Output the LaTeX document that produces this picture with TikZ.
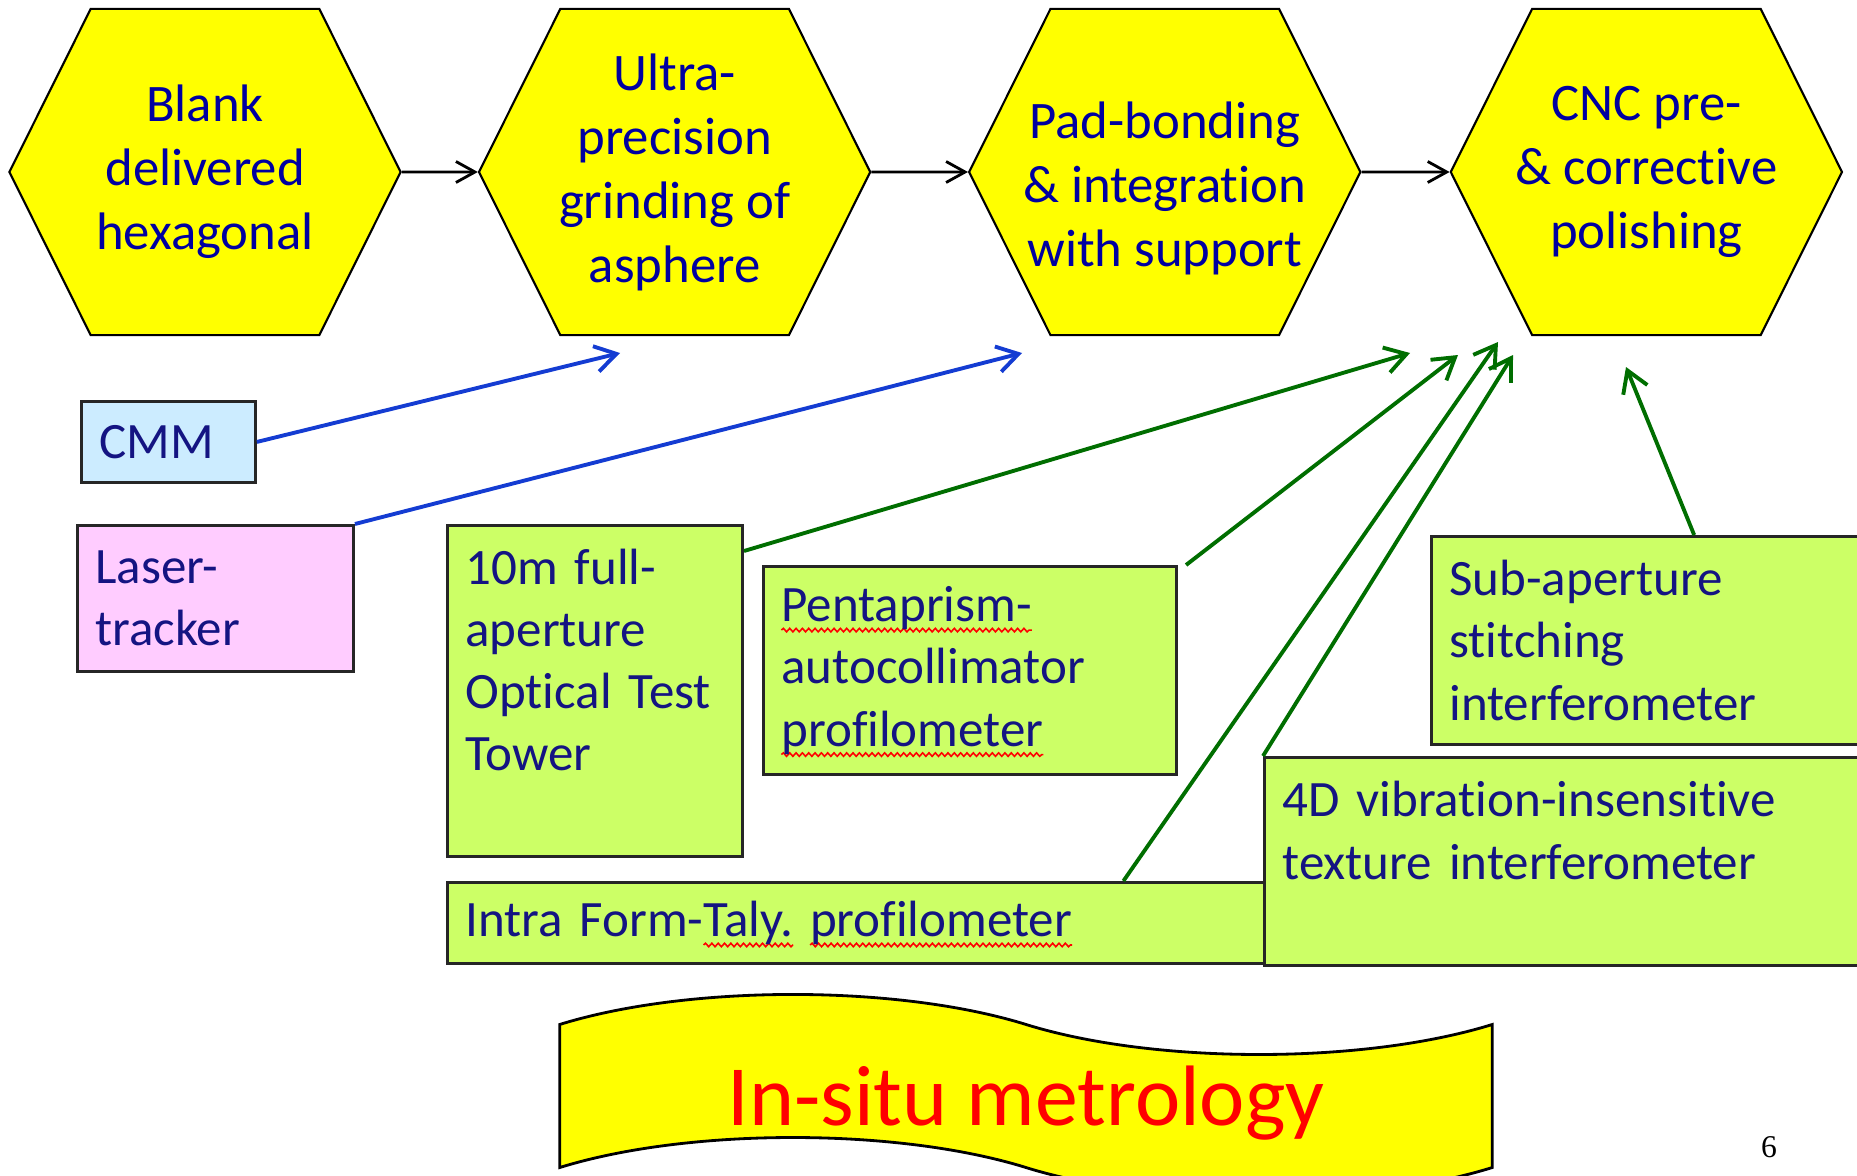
\documentclass[tikz,border=0pt]{standalone}
\usepackage{fontspec}
\setmainfont{Carlito}[Ligatures=CommonOff]
\newfontfamily\slidenumfont{Liberation Serif}
\usetikzlibrary{arrows.meta,shapes.symbols,positioning,decorations.pathmorphing}

\definecolor{hexyellow}{RGB}{255,255,0}
\definecolor{hextext}{RGB}{0,0,160}
\definecolor{boxtext}{RGB}{20,20,130}
\definecolor{toolgreen}{RGB}{204,255,102}
\definecolor{cmmblue}{RGB}{204,236,255}
\definecolor{laserpink}{RGB}{255,204,255}
\definecolor{lineblue}{RGB}{20,60,210}
\definecolor{linegreen}{RGB}{0,110,0}

% red spell-check squiggle under a word
\newsavebox\wavebox
\newcommand\spellwave[1]{\sbox\wavebox{#1}%
  \tikz[overlay,baseline=0pt]\draw[red,line width=0.45pt,decorate,
    decoration={snake,amplitude=0.5pt,segment length=1.8pt}]
    (0pt,-2.4pt) -- (\wd\wavebox,-2.4pt);%
  \usebox\wavebox}

\begin{document}
\begin{tikzpicture}[x=0.01cm,y=-0.01cm,node distance=0.8cm]

  \tikzstyle{stage}=[signal,signal to=east and west,signal pointer angle=127,
                     draw,line width=0.6pt,fill=hexyellow,text=hextext,
                     minimum width=3.91cm,minimum height=3.26cm,
                     inner xsep=-0.4cm,inner ysep=0pt,
                     align=center,font=\fontsize{15}{18.2}\selectfont]
  \tikzstyle{tool}=[rectangle,anchor=north west,draw=black!85,line width=0.8pt,
                    fill=toolgreen,text=boxtext,align=left,inner xsep=0.18cm,
                    font=\fontsize{14.5}{17.7}\selectfont]
  \tikzstyle{flow}=[-{Straight Barb[length=1.9mm,width=2.1mm]},line width=0.8pt]
  \tikzstyle{probe}=[-{Straight Barb[length=2.1mm,width=2.6mm]},line width=1.1pt]

  \useasboundingbox (0,0) rectangle (1857,1176);

  % process chain
  \node [stage] (blank)                         at (205,172) {Blank\\delivered\\hexagonal};
  \node [stage] (grind)  [right=0.76cm of blank] {Ultra-\\precision\\grinding of\\asphere};
  \node [stage] (bond)   [right=0.965cm of grind] {\mbox{}\\[1.7pt]Pad-bonding\\\& integration\\with support};
  \node [stage] (polish) [right=0.88cm of bond]  {CNC pre-\\\& corrective\\polishing};

  \draw [flow] (blank) -- (grind);
  \draw [flow] (grind) -- (bond);
  \draw [flow] (bond)  -- (polish);

  % metrology tools
  \node [tool,fill=cmmblue]   (cmm)   at (80,400)  [minimum height=0.81cm,text width=1.38cm] {CMM};
  \node [tool,fill=laserpink] (laser) at (76,524)  [minimum height=1.46cm,text width=2.40cm] {Laser-\\tracker};
  \node [tool]                (tower) at (446,524) [minimum height=3.31cm,text width=2.59cm]
        {10m full-\\aperture\\Optical Test\\Tower\\\mbox{}};
  \node [tool]                (penta) at (762,565) [minimum height=2.08cm,text width=3.77cm]
        {\spellwave{Pentaprism-}\\autocollimator\\\spellwave{profilometer}};
  \node [tool]                (sub)   at (1430,535) [minimum height=2.08cm,text width=4.14cm]
        {Sub-aperture\\stitching\\interferometer};
  \node [tool]                (intra) at (446,881) [minimum height=0.81cm,text width=8.04cm]
        {Intra Form-\spellwave{Taly.} \spellwave{profilometer}};
  \node [tool]                (vib)   at (1263,756) [minimum height=2.08cm,text width=5.84cm]
        {4D vibration-insensitive\\texture interferometer\\\mbox{}};

  \coordinate (cmmtip)   at (620,353);
  \coordinate (lasertip) at (1022,353);
  \coordinate (towertip) at (1410,353);
  \coordinate (pentatip) at (1458,355);
  \coordinate (intratip) at (1498,342);
  \coordinate (vibtip)   at (1513,355);
  \coordinate (subtip)   at (1626,367);

  \draw [probe,lineblue]  (cmm.east)                      -- (cmmtip);
  \draw [probe,lineblue]  (laser.north east)              -- (lasertip);
  \draw [probe,linegreen] ([yshift=-0.27cm]tower.north east) -- (towertip);
  \draw [probe,linegreen] ([xshift=0.08cm]penta.north east)  -- (pentatip);
  \draw [probe,linegreen] ([xshift=6.77cm]intra.north west)  -- (intratip);
  \draw [probe,linegreen] (vib.north west)                -- (vibtip);
  \draw [probe,linegreen] ([xshift=2.64cm]sub.north west)    -- (subtip);

  % banner
  \node [tape,draw,line width=0.8pt,fill=hexyellow,text=red,text depth=0pt,
         minimum width=9.32cm,minimum height=1.30cm,tape bend height=0.6cm,
         tape bend top=out and in,tape bend bottom=out and in,
         font=\fontsize{24.4}{29}\selectfont] (insitu) at (1026,1096) {In-situ metrology};

  \node [font=\slidenumfont\fontsize{9}{11}\selectfont] (pagenum) at (1769,1147) {6};
\end{tikzpicture}
\end{document}
